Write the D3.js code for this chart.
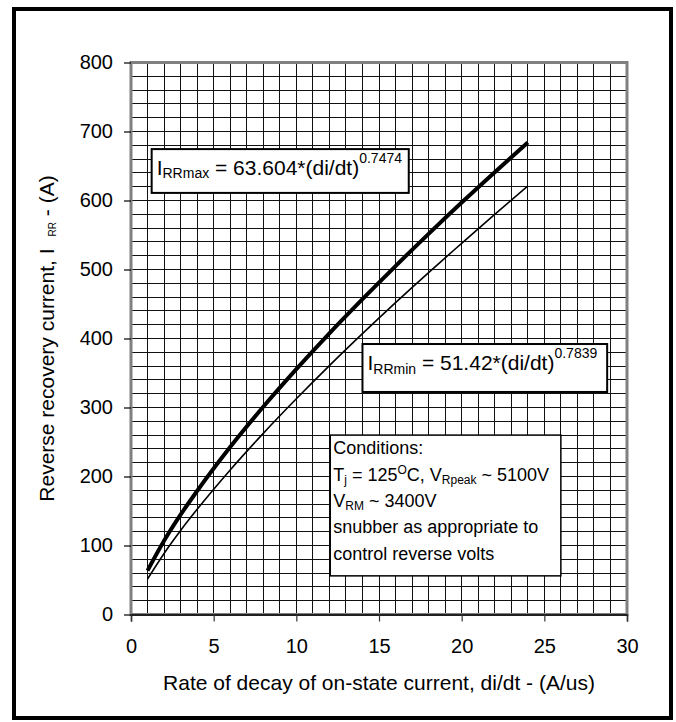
<!DOCTYPE html>
<html>
<head>
<meta charset="utf-8">
<script src="https://d3js.org/d3.v7.min.js"></script>
<style>
  html, body { margin: 0; padding: 0; background: #fff; }
  svg { display: block; font-family: "Liberation Sans", Arial, sans-serif; }
</style>
</head>
<body>
<div id="chart"></div>
<script>
// values
const didt = [1, 2, 3, 4, 6, 8, 10, 12, 14, 16, 18, 20, 22, 24];
const irrMax = [63.6, 106.8, 144.6, 179, 242.7, 301, 355.5, 407.5, 457, 505, 551.7, 597, 641, 684];
const irrMin = [51.4, 88.5, 121.7, 152.4, 209.5, 262.5, 312.6, 360.7, 407, 452, 495.6, 538, 580, 621];

const xTicks = [0, 5, 10, 15, 20, 25, 30];
const yTicks = [0, 100, 200, 300, 400, 500, 600, 700, 800];
const xTitle = "Rate of decay of on-state current, di/dt - (A/us)";

const width = 676;
const height = 722;
const margin = { top: 62.5, right: 49, bottom: 107.5, left: 131 };

const svg = d3.select("#chart").append("svg")
  .attr("width", width)
  .attr("height", height);

const x = d3.scaleLinear().domain([0, 30]).range([margin.left, width - margin.right]);
const y = d3.scaleLinear().domain([0, 800]).range([height - margin.bottom, margin.top]);

// outer frame
svg.append("rect")
  .attr("x", 14).attr("y", 9)
  .attr("width", 657).attr("height", 709)
  .attr("fill", "none")
  .attr("stroke", "#000")
  .attr("stroke-width", 4);

// grid (1 unit in x, 20 units in y)
const grid = svg.append("g").attr("shape-rendering", "crispEdges");
grid.selectAll("line.v")
  .data(d3.range(1, 30))
  .join("line")
  .attr("class", "v")
  .attr("x1", d => x(d)).attr("x2", d => x(d))
  .attr("y1", y(0)).attr("y2", y(800))
  .attr("stroke", "#111").attr("stroke-width", 1);
grid.selectAll("line.h")
  .data(d3.range(20, 800, 20))
  .join("line")
  .attr("class", "h")
  .attr("x1", x(0)).attr("x2", x(30))
  .attr("y1", d => y(d)).attr("y2", d => y(d))
  .attr("stroke", "#111").attr("stroke-width", 1);

// plot border
svg.append("rect")
  .attr("x", x(0)).attr("y", y(800))
  .attr("width", x(30) - x(0)).attr("height", y(0) - y(800))
  .attr("fill", "none")
  .attr("stroke", "#808080")
  .attr("stroke-width", 3);

// axes
const gx = svg.append("g")
  .attr("transform", `translate(0,${y(0)})`)
  .call(d3.axisBottom(x).tickValues(xTicks).tickSize(7).tickPadding(17));
gx.select(".domain").attr("stroke", "#000").attr("stroke-width", 1.5);
gx.selectAll(".tick line").attr("stroke", "#333").attr("stroke-width", 1.2);
gx.selectAll("text").attr("font-size", 20).attr("font-family", "Liberation Sans, Arial, sans-serif").attr("fill", "#000");

const gy = svg.append("g")
  .attr("transform", `translate(${x(0)},0)`)
  .call(d3.axisLeft(y).tickValues(yTicks).tickSize(7).tickPadding(11));
gy.select(".domain").remove();
gy.selectAll(".tick line").attr("stroke", "#000").attr("stroke-width", 1.2);
gy.selectAll("text").attr("font-size", 20).attr("font-family", "Liberation Sans, Arial, sans-serif").attr("fill", "#000");

// axis titles
svg.append("text")
  .attr("x", (x(0) + x(30)) / 2)
  .attr("y", 690)
  .attr("text-anchor", "middle")
  .attr("font-size", 21)
  .text(xTitle);

const yl = svg.append("text")
  .attr("transform", `translate(53.5,${(y(0) + y(800)) / 2}) rotate(-90)`)
  .attr("text-anchor", "middle")
  .attr("font-size", 21);
yl.append("tspan").text("Reverse recovery current, I");
yl.append("tspan").attr("dx", 12).attr("dy", 2).attr("font-size", 10).text("RR");
yl.append("tspan").attr("dy", -2).text(" - (A)");

// curves
const line = d3.line()
  .x((d, i) => x(didt[i]))
  .y(d => y(d))
  .curve(d3.curveMonotoneX);

svg.append("path")
  .datum(irrMin)
  .attr("fill", "none")
  .attr("stroke", "#000")
  .attr("stroke-width", 1.6)
  .attr("d", line);

svg.append("path")
  .datum(irrMax)
  .attr("fill", "none")
  .attr("stroke", "#000")
  .attr("stroke-width", 4)
  .attr("d", line);

// rich text helper: parts = [[text, "" | "sub" | "sup"], ...]
function richText(g, px, py, parts, size, small, subShift, supShift) {
  const t = g.append("text").attr("x", px).attr("y", py).attr("font-size", size);
  let shift = 0;
  parts.forEach(([s, kind]) => {
    const target = kind === "sub" ? subShift : kind === "sup" ? supShift : 0;
    t.append("tspan")
      .attr("dy", target - shift)
      .attr("font-size", kind ? small : size)
      .text(s);
    shift = target;
  });
  return t;
}

function box(x0, x1, y0, y1, sw) {
  return svg.append("rect")
    .attr("x", x(x0)).attr("y", y(y0))
    .attr("width", x(x1) - x(x0)).attr("height", y(y1) - y(y0))
    .attr("fill", "#fff")
    .attr("stroke", "#000")
    .attr("stroke-width", sw);
}

// I_RRmax label
box(1.25, 16.8, 674.5, 611, 2);
richText(svg, x(1.25) + 5, 175,
  [["I", ""], ["RRmax", "sub"], [" = 63.604*(di/dt)", ""], ["0.7474", "sup"]],
  21, 14, 3, -12);

// I_RRmin label
box(14.0, 28.8, 392, 322.5, 2);
richText(svg, x(14.0) + 5, 369.5,
  [["I", ""], ["RRmin", "sub"], [" = 51.42*(di/dt)", ""], ["0.7839", "sup"]],
  21, 14, 4, -12);

// conditions box
box(12.05, 26.0, 260, 56, 1.5);
const cx = x(12.05) + 3;
richText(svg, cx, 453.5, [["Conditions:", ""]], 18, 12, 3, -7);
richText(svg, cx, 480.5,
  [["T", ""], ["j", "sub"], [" = 125", ""], ["O", "sup"], ["C, V", ""], ["Rpeak", "sub"], [" ~ 5100V", ""]],
  18, 12, 3, -7);
richText(svg, cx, 507, [["V", ""], ["RM", "sub"], [" ~ 3400V", ""]], 18, 12, 3, -7);
richText(svg, cx, 533, [["snubber as appropriate to", ""]], 18, 12, 3, -7);
richText(svg, cx, 559.5, [["control reverse volts", ""]], 18, 12, 3, -7);
</script>
</body>
</html>
